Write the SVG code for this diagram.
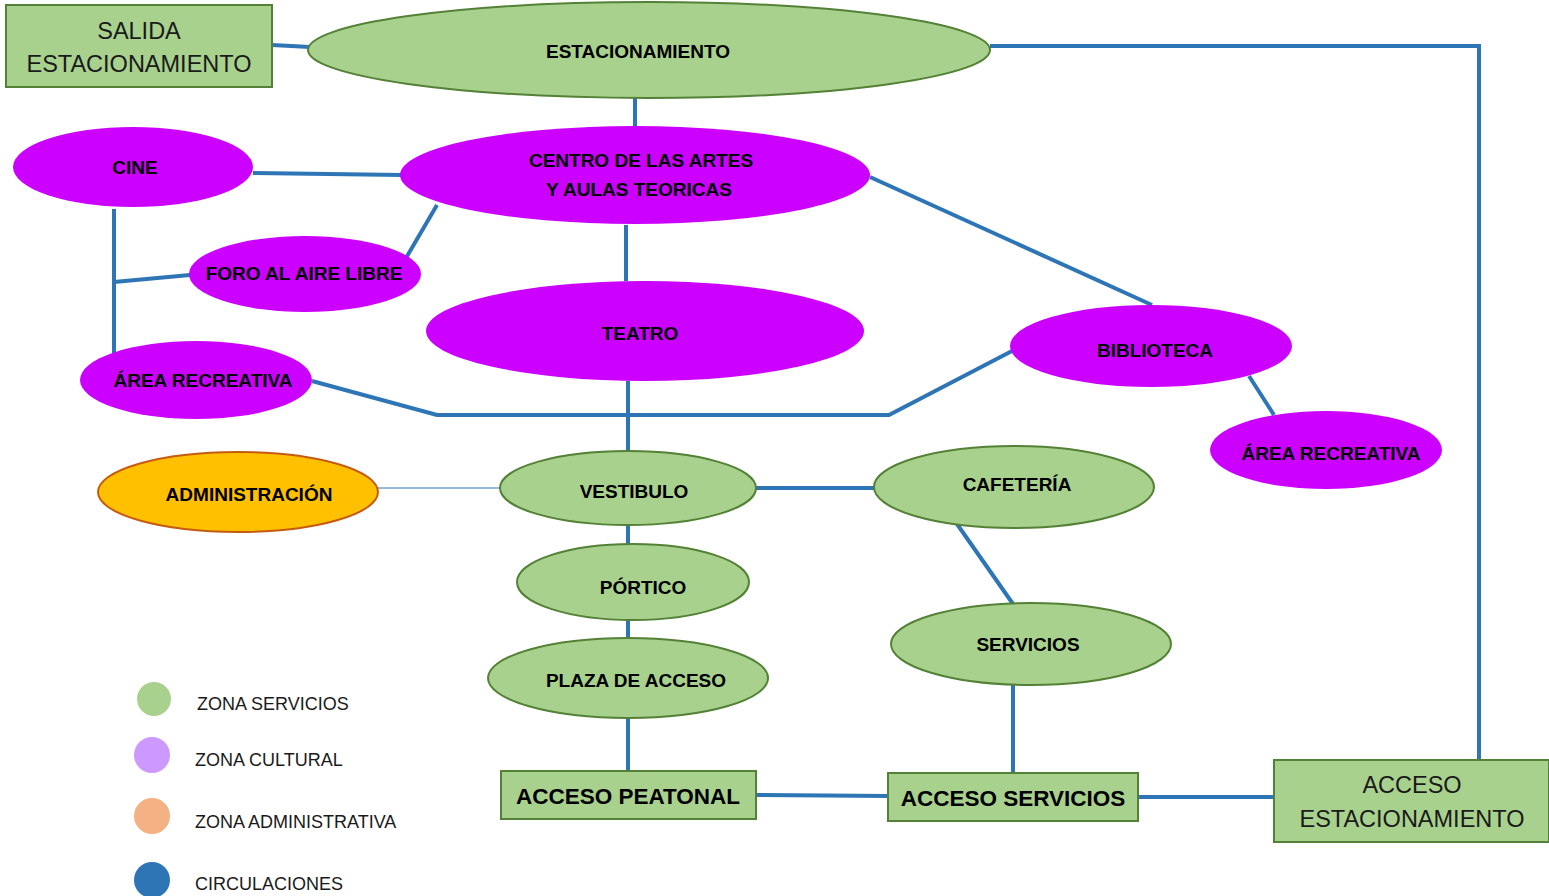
<svg xmlns="http://www.w3.org/2000/svg" width="1549" height="896" viewBox="0 0 1549 896">
<style>
.g{fill:#a9d18e;stroke:#538135;stroke-width:2}
.p{fill:#cc00ff;stroke:none}
.a{fill:#ffc000;stroke:#c55a11;stroke-width:2}
.c{fill:none;stroke:#2e75b6;stroke-width:4}
.t{font-family:"Liberation Sans",Arial,sans-serif;font-weight:bold;font-size:19px;fill:#000;text-anchor:middle}
.tb{font-family:"Liberation Sans",Arial,sans-serif;font-weight:bold;font-size:22.5px;fill:#000;text-anchor:middle}
.tn{font-family:"Liberation Sans",Arial,sans-serif;font-size:23.5px;fill:#1a1a1a;text-anchor:middle}
.l{font-family:"Liberation Sans",Arial,sans-serif;font-size:18px;fill:#1a1a1a}
</style>
<rect width="1549" height="896" fill="#fff"/>
<g id="connectors">
<line class="c" x1="272" y1="45" x2="310" y2="47"/>
<polyline class="c" points="990,46 1479,46 1479,760"/>
<line class="c" x1="635" y1="98" x2="635" y2="127"/>
<line class="c" x1="253" y1="173" x2="402" y2="175"/>
<line class="c" x1="437" y1="205" x2="406" y2="258"/>
<line class="c" x1="114" y1="209" x2="114" y2="354"/>
<line class="c" x1="114" y1="282" x2="190" y2="275"/>
<line class="c" x1="626" y1="225" x2="626" y2="281"/>
<line class="c" x1="870" y1="177" x2="1152" y2="305"/>
<line class="c" x1="628" y1="381" x2="628" y2="452"/>
<polyline class="c" points="312,381 437,415 889,415 1012,351"/>
<line class="c" x1="1249" y1="376" x2="1274" y2="415"/>
<line x1="378" y1="488" x2="500" y2="488" stroke="#2e75b6" stroke-width="1"/>
<line class="c" x1="755" y1="488" x2="874" y2="488"/>
<line class="c" x1="628" y1="524" x2="628" y2="545"/>
<line class="c" x1="628" y1="620" x2="628" y2="639"/>
<line class="c" x1="628" y1="718" x2="628" y2="771"/>
<line class="c" x1="957" y1="524" x2="1013" y2="604"/>
<line class="c" x1="1013" y1="685" x2="1013" y2="773"/>
<line class="c" x1="756" y1="795" x2="888" y2="796"/>
<line class="c" x1="1138" y1="797" x2="1274" y2="797"/>
</g>
<g id="salida"><rect class="g" x="6" y="5" width="266" height="82"/><text class="tn" x="139" y="39">SALIDA</text><text class="tn" x="139" y="72">ESTACIONAMIENTO</text></g>
<g id="estacionamiento"><ellipse class="g" cx="649" cy="50" rx="341" ry="48"/><text class="t" x="638" y="58">ESTACIONAMIENTO</text></g>
<g id="centro"><ellipse class="p" cx="635" cy="175" rx="235" ry="49"/><text class="t" x="641" y="167">CENTRO DE LAS ARTES</text><text class="t" x="639" y="196">Y AULAS TEORICAS</text></g>
<g id="cine"><ellipse class="p" cx="133" cy="167" rx="120" ry="40"/><text class="t" x="135" y="174">CINE</text></g>
<g id="foro"><ellipse class="p" cx="305" cy="274" rx="116" ry="38"/><text class="t" x="304" y="280">FORO AL AIRE LIBRE</text></g>
<g id="teatro"><ellipse class="p" cx="645" cy="331" rx="219" ry="50"/><text class="t" x="640" y="340">TEATRO</text></g>
<g id="area-rec-1"><ellipse class="p" cx="196" cy="380" rx="116" ry="39"/><text class="t" x="203" y="387">ÁREA RECREATIVA</text></g>
<g id="biblioteca"><ellipse class="p" cx="1151" cy="346" rx="141" ry="41"/><text class="t" x="1155" y="357">BIBLIOTECA</text></g>
<g id="area-rec-2"><ellipse class="p" cx="1326" cy="450" rx="116" ry="39"/><text class="t" x="1331" y="460">ÁREA RECREATIVA</text></g>
<g id="administracion"><ellipse class="a" cx="238" cy="492" rx="140" ry="40"/><text class="t" x="249" y="501">ADMINISTRACIÓN</text></g>
<g id="vestibulo"><ellipse class="g" cx="628" cy="488" rx="128" ry="37"/><text class="t" x="634" y="498">VESTIBULO</text></g>
<g id="cafeteria"><ellipse class="g" cx="1014" cy="487" rx="140" ry="41"/><text class="t" x="1017" y="491">CAFETERÍA</text></g>
<g id="portico"><ellipse class="g" cx="633" cy="582" rx="116" ry="38"/><text class="t" x="643" y="594">PÓRTICO</text></g>
<g id="servicios"><ellipse class="g" cx="1031" cy="644" rx="140" ry="41"/><text class="t" x="1028" y="651">SERVICIOS</text></g>
<g id="plaza"><ellipse class="g" cx="628" cy="678" rx="140" ry="40"/><text class="t" x="636" y="687">PLAZA DE ACCESO</text></g>
<g id="acceso-peatonal"><rect class="g" x="501" y="771" width="255" height="48"/><text class="tb" x="628" y="804">ACCESO PEATONAL</text></g>
<g id="acceso-servicios"><rect class="g" x="888" y="773" width="250" height="48"/><text class="tb" x="1013" y="806">ACCESO SERVICIOS</text></g>
<g id="acceso-estacionamiento"><rect class="g" x="1274" y="760" width="275" height="82"/><text class="tn" x="1412" y="793">ACCESO</text><text class="tn" x="1412" y="827">ESTACIONAMIENTO</text></g>
<g id="legend">
<circle cx="154" cy="699" r="17" fill="#a9d18e"/><text class="l" x="197" y="710">ZONA SERVICIOS</text>
<circle cx="152" cy="755" r="18" fill="#cc99ff"/><text class="l" x="195" y="766">ZONA CULTURAL</text>
<circle cx="152" cy="816" r="18" fill="#f4b183"/><text class="l" x="195" y="828">ZONA ADMINISTRATIVA</text>
<circle cx="152" cy="880" r="18" fill="#2e75b6"/><text class="l" x="195" y="890">CIRCULACIONES</text>
</g>
</svg>
